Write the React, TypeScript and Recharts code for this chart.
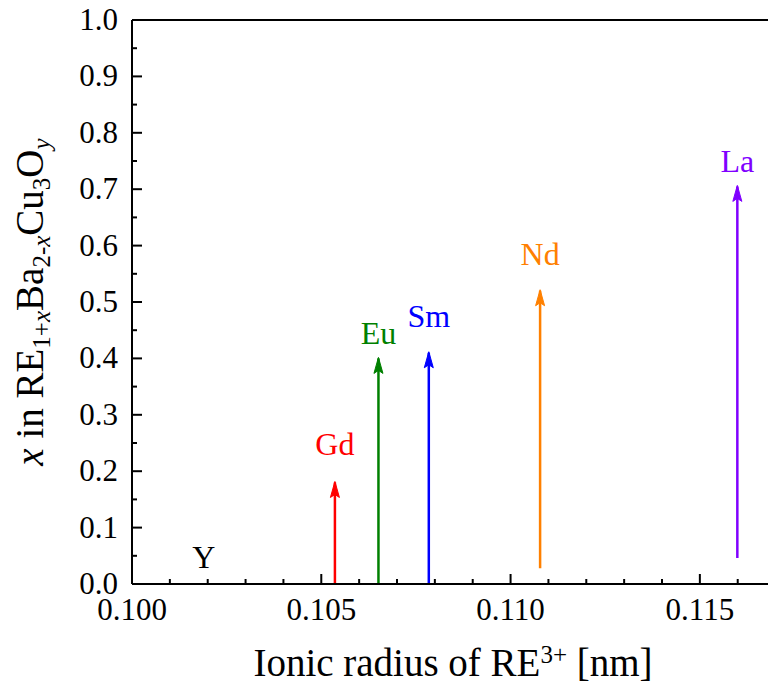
import React from 'react';
import { ComposedChart, Line, Scatter, XAxis, YAxis, ReferenceLine } from 'recharts';

// Rare-earth ions, their ionic radii and the x range of RE(1+x)Ba(2-x)Cu3Oy
const elements = ['Y', 'Gd', 'Eu', 'Sm', 'Nd', 'La'];
const ionicRadius = [0.1019, 0.10536, 0.10651, 0.10784, 0.11078, 0.11599];
const xFrom = [0, 0, 0, 0, 0.028, 0.046];
const xTo = [0, 0.18, 0.4, 0.41, 0.52, 0.705];
const labelAt = [0.028, 0.229, 0.4255, 0.456, 0.5656, 0.73];
const colors = ['#000000', '#ff0000', '#008000', '#0000ff', '#ff8000', '#8000ff'];

const xTicks = [
  0.1, 0.101, 0.102, 0.103, 0.104, 0.105, 0.106, 0.107, 0.108,
  0.109, 0.11, 0.111, 0.112, 0.113, 0.114, 0.115, 0.116,
];
const yTicks = [
  0, 0.05, 0.1, 0.15, 0.2, 0.25, 0.3, 0.35, 0.4, 0.45, 0.5,
  0.55, 0.6, 0.65, 0.7, 0.75, 0.8, 0.85, 0.9, 0.95, 1.0,
];

const FONT = '"Liberation Serif", "Times New Roman", serif';

const arrows = elements
  .map((name, i) => ({
    name,
    color: colors[i],
    data: [
      { x: ionicRadius[i], y: xFrom[i] },
      { x: ionicRadius[i], y: xTo[i] },
    ],
  }))
  .filter((a) => a.data[1].y > a.data[0].y);

const labelPoints = elements.map((name, i) => ({
  name,
  color: colors[i],
  x: ionicRadius[i],
  y: labelAt[i],
}));

const XTick = (props: any) => {
  const { x, y, payload } = props;
  const major = Math.round(payload.value * 1000) % 5 === 0;
  return (
    <g>
      <line x1={x} y1={y} x2={x} y2={y - (major ? 10 : 5)} stroke="#000" strokeWidth={2} />
      {major && (
        <text x={x} y={y + 36} textAnchor="middle" fontSize={31} fontFamily={FONT} fill="#000">
          {payload.value.toFixed(3)}
        </text>
      )}
    </g>
  );
};

const YTick = (props: any) => {
  const { x, y, payload } = props;
  const major = Math.round(payload.value * 100) % 10 === 0;
  return (
    <g>
      <line x1={x} y1={y} x2={x + (major ? 10 : 5)} y2={y} stroke="#000" strokeWidth={2} />
      {major && (
        <text x={x - 14} y={y + 10} textAnchor="end" fontSize={31} fontFamily={FONT} fill="#000">
          {payload.value.toFixed(1)}
        </text>
      )}
    </g>
  );
};

const XTitle = (props: any) => {
  const vb = props.viewBox;
  return (
    <text x={vb.x + vb.width / 2 + 3} y={vb.y + 92} textAnchor="middle" fontSize={39} fontFamily={FONT} fill="#000">
      Ionic radius of RE
      <tspan fontSize={25} dy={-13}>3+</tspan>
      <tspan dy={13}>{' [nm]'}</tspan>
    </text>
  );
};

const YTitle = (props: any) => {
  const vb = props.viewBox;
  const cx = vb.x + 43;
  const cy = vb.y + vb.height / 2;
  return (
    <text x={cx} y={cy} transform={`rotate(-90, ${cx}, ${cy})`} textAnchor="middle" fontSize={39} fontFamily={FONT} fill="#000">
      <tspan fontStyle="italic">x</tspan>
      {' in RE'}
      <tspan fontSize={25} dy={7}>1+</tspan>
      <tspan fontSize={25} fontStyle="italic">x</tspan>
      <tspan dy={-7}>Ba</tspan>
      <tspan fontSize={25} dy={7}>2-</tspan>
      <tspan fontSize={25} fontStyle="italic">x</tspan>
      <tspan dy={-7}>Cu</tspan>
      <tspan fontSize={25} dy={7}>3</tspan>
      <tspan dy={-7}>O</tspan>
      <tspan fontSize={25} fontStyle="italic" dy={7}>y</tspan>
    </text>
  );
};

// arrowhead drawn on the upper point of each line
const makeHead = (color: string) => (props: any) => {
  const { cx, cy, index } = props;
  if (index !== 1) return <g key={`d-${index}`} />;
  return (
    <path
      key={`d-${index}`}
      d={`M${cx},${cy - 1} L${cx - 4.5},${cy + 15} L${cx},${cy + 12} L${cx + 4.5},${cy + 15} Z`}
      fill={color}
      stroke={color}
      strokeWidth={1}
    />
  );
};

const ElementLabel = (props: any) => {
  const { cx, cy, payload } = props;
  return (
    <text x={cx} y={cy} textAnchor="middle" fontSize={32} fontFamily={FONT} fill={payload.color}>
      {payload.name}
    </text>
  );
};

export default function App() {
  return (
    <div style={{ position: 'absolute', left: 0, top: 0, background: '#fff' }}>
      <ComposedChart width={768} height={686} margin={{ top: 20, right: 0, bottom: 0, left: 0 }}>
        <XAxis
          type="number"
          dataKey="x"
          domain={[0.1, 0.1168]}
          ticks={xTicks}
          interval={0}
          allowDataOverflow
          height={102}
          tickSize={0}
          tickMargin={0}
          tickLine={false}
          axisLine={{ stroke: '#000', strokeWidth: 2 }}
          tick={<XTick />}
          label={{ content: XTitle }}
        />
        <YAxis
          type="number"
          domain={[0, 1]}
          ticks={yTicks}
          interval={0}
          allowDataOverflow
          width={132}
          tickSize={0}
          tickMargin={0}
          tickLine={false}
          axisLine={{ stroke: '#000', strokeWidth: 2 }}
          tick={<YTick />}
          label={{ content: YTitle }}
        />
        <ReferenceLine y={1} stroke="#000" strokeWidth={2} />
        {arrows.map((a) => (
          <Line
            key={a.name}
            data={a.data}
            dataKey="y"
            stroke={a.color}
            strokeWidth={2.5}
            dot={makeHead(a.color)}
            activeDot={false}
            isAnimationActive={false}
          />
        ))}
        <Scatter data={labelPoints} dataKey="y" shape={<ElementLabel />} isAnimationActive={false} />
      </ComposedChart>
    </div>
  );
}
